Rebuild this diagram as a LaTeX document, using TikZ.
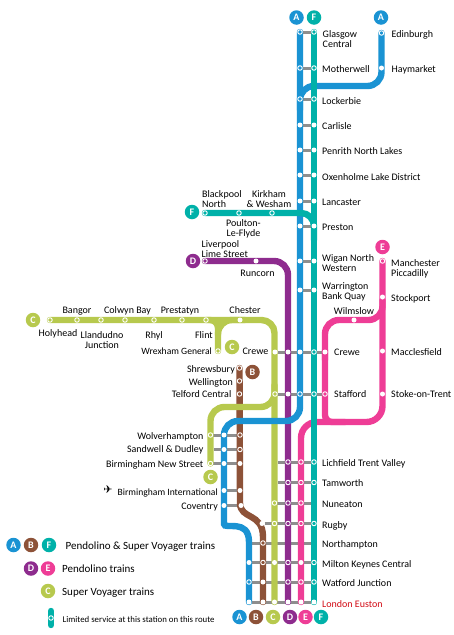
\documentclass[tikz,border=0pt]{standalone}
\usepackage{fontspec}
\setmainfont{Carlito}
\newfontfamily\symfont{DejaVu Sans}
\usepackage{xcolor}
\definecolor{lineA}{RGB}{26,147,211}
\definecolor{lineB}{RGB}{141,82,56}
\definecolor{lineC}{RGB}{183,201,78}
\definecolor{lineD}{RGB}{142,44,142}
\definecolor{lineE}{RGB}{238,61,150}
\definecolor{lineF}{RGB}{0,177,169}
\definecolor{linkgrey}{RGB}{142,142,142}
\definecolor{euston}{RGB}{210,10,20}
\usetikzlibrary{backgrounds}
\tikzset{
  route/.style={line width=6.4pt,draw=#1,line cap=round},
  link/.style={line width=3pt,draw=linkgrey},
  stop/.style={circle,fill=white,inner sep=0pt,minimum size=5pt},
  ring/.style={circle,draw=white,line width=0.9pt,inner sep=0pt,minimum size=4.5pt},
  badge/.style={circle,fill=#1,text=white,inner sep=0pt,minimum size=14.5pt,
                font=\fontsize{10}{10}\selectfont\bfseries},
  lbl/.style={font=\fontsize{10}{10}\selectfont,inner sep=0pt,text height=8.5pt,text depth=0.5pt},
  lbltwo/.style={font=\fontsize{10}{10}\selectfont,inner sep=0pt,align=left,yshift=-1.5pt},
}
\begin{document}
\begin{tikzpicture}[x=1pt,y=-1pt]
  \useasboundingbox (0,0) rectangle (453,635);
  %% Stations on lines A and F, Glasgow to Warrington
  \foreach \nm/\yy/\st in {gla/32/ring,mot/68/ring,loc/99/ring,car/125/stop,pen/150/stop,
      oxe/175/stop,lan/201/stop,pre/226/stop,wig/261/stop,war/290/stop} {
    \node[\st] (\nm-a) at (300,\yy) {};
    \node[\st] (\nm-f) at (314,\yy) {};
  }
  %% Branch stations, top
  \node[ring] (edi-a) at (381.5,33) {};
  \node[stop] (hay-a) at (381.5,68) {};
  \foreach \nm/\xx in {bla/205,pou/239,kir/272} \node[ring] (\nm-f) at (\xx,213) {};
  \node[ring] (liv-d) at (205,261) {};
  \node[stop] (run-d) at (256,261) {};
  \node[ring] (man-e) at (382.5,261) {};
  \node[stop] (sto-e) at (382.5,297) {};
  \node[stop] (wil-e) at (354,320) {};
  \node[stop] (mac-e) at (382.5,351) {};
  \node[stop] (soe-e) at (382.5,394) {};
  %% North Wales
  \foreach \nm/\xx in {hol/50,ban/77,lla/101,col/125,rhy/154,pra/182,fli/206}
    \node[ring] (\nm-c) at (\xx,320) {};
  \node[stop] (che-c) at (240,320) {};
  \node[ring] (wre-c) at (218,351) {};
  %% Crewe and Stafford
  \node[stop] (cre-c) at (275,352) {};
  \node[stop] (cre-d) at (288,352) {};
  \node[stop] (cre-a) at (300,352) {};
  \node[ring] (cre-f) at (314,352) {};
  \node[stop] (cre-e) at (325,352) {};
  \node[ring] (sta-c) at (275,394) {};
  \node[stop] (sta-d) at (288,394) {};
  \node[ring] (sta-a) at (300,394) {};
  \node[ring] (sta-f) at (314,394) {};
  \node[ring] (sta-e) at (325,394) {};
  %% Shrewsbury and West Midlands
  \foreach \nm/\yy in {shr/368,wel/381,tel/394} \node[ring] (\nm-b) at (239.5,\yy) {};
  \node[ring] (wol-c) at (210.5,435) {};
  \node[stop] (wol-a) at (224,435) {};
  \node[ring] (wol-b) at (240,435) {};
  \coordinate (san-x) at (214,449.5);
  \node[stop] (san-a) at (224,449.5) {};
  \node[ring] (san-b) at (240,449.5) {};
  \node[ring] (bns-c) at (210.5,463.5) {};
  \node[stop] (bns-a) at (224,463.5) {};
  \node[stop] (bns-b) at (240,463.5) {};
  \node[stop] (bhi-a) at (224,490.5) {};
  \node[stop] (bhi-b) at (240,490.5) {};
  \node[stop] (cov-a) at (224,505.5) {};
  \node[stop] (cov-b) at (241,505.5) {};
  %% Trent Valley
  \foreach \nm/\yy in {lic/462,tam/482.5} {
    \coordinate (\nm-x) at (278,\yy);
    \foreach \ln/\xx in {d/288,e/301,f/314} \node[ring] (\nm-\ln) at (\xx,\yy) {};
  }
  \foreach \ln/\xx in {c/274.5,d/288,e/301} \node[ring] (nun-\ln) at (\xx,503) {};
  \coordinate (nun-f) at (311,503);
  \node[stop] (rug-b) at (262,523.5) {};
  \foreach \ln/\xx in {c/274.5,d/288,e/301,f/314} \node[ring] (rug-\ln) at (\xx,523.5) {};
  \coordinate (nor-a) at (252,543);
  \node[ring] (nor-b) at (263,543) {};
  \coordinate (nor-f) at (311,543);
  %% South of Rugby
  \node[stop] (mil-a) at (249,562.5) {};
  \node[ring] (mil-b) at (263,562.5) {};
  \node[stop] (mil-c) at (274.5,562.5) {};
  \node[ring] (mil-d) at (288,562.5) {};
  \node[stop] (mil-e) at (301,562.5) {};
  \node[ring] (mil-f) at (314,562.5) {};
  \node[ring] (wat-a) at (249,582) {};
  \node[stop] (wat-b) at (263,582) {};
  \node[ring] (wat-d) at (288,582) {};
  \node[ring] (wat-e) at (301,582) {};
  \node[ring] (wat-f) at (314,582) {};
  \foreach \ln/\xx in {a/249,b/263,c/274.5,d/288,e/301,f/314} \node[stop] (eus-\ln) at (\xx,602) {};
  %% Routes and interchange links go under the stations
  \begin{pgfonlayer}{background}
    \foreach \nm in {gla,mot,loc,car,pen,oxe,lan,pre,wig,war} \draw[link] (\nm-a) -- (\nm-f);
    \foreach \nm in {cre,sta} \draw[link] (\nm-c) -- (\nm-e);
    \draw[link] (wol-c) -- (wol-b);
    \draw[link] (san-x) -- (san-b);
    \draw[link] (bns-c) -- (bns-b);
    \draw[link] (bhi-a) -- (bhi-b);
    \draw[link] (cov-a) -- (cov-b);
    \foreach \nm in {lic,tam} \draw[link] (\nm-x) -- (\nm-f);
    \draw[link] (nun-c) -- (nun-f);
    \draw[link] (rug-b) -- (rug-f);
    \draw[link] (nor-a) -- (nor-f);
    \draw[link] (mil-a) -- (mil-f);
    \draw[link] (wat-a) -- (wat-f);
    \draw[link] (eus-a) -- (eus-f);
    %% B
    \draw[route=lineB] (shr-b.center) -- (240,503) .. controls (240,520) and (263,512) .. (263,537) -- (eus-b.center);
    %% C
    \draw[route=lineC,rounded corners=13pt] (hol-c.center) -- (274.5,320) -- (eus-c.center);
    \draw[route=lineC,rounded corners=14pt] (245,320) -- (218,320) -- (wre-c.center);
    \draw[route=lineC,rounded corners=8pt] (206,320) -- (218,320) -- (218,335);
    \draw[route=lineC,rounded corners=14pt] (274.5,385) -- (274.5,407) -- (210.5,407) -- (bns-c.center);
    %% D
    \draw[route=lineD,rounded corners=14pt] (liv-d.center) -- (288,261) -- (eus-d.center);
    %% E
    \draw[route=lineE,rounded corners=16pt] (man-e.center) -- (382.5,422) -- (301,422) -- (eus-e.center);
    \draw[route=lineE,rounded corners=14pt] (382.5,300) -- (382.5,320) -- (325,320) -- (325,360);
    \draw[route=lineE,rounded corners=7pt] (325,350) -- (325,422) -- (345,422);
    %% A
    \draw[route=lineA,rounded corners=14pt] (edi-a.center) -- (381.5,86) -- (300,86) -- (300,110);
    \draw[route=lineA,rounded corners=14pt] (gla-a.center) -- (300,421) -- (224,421) -- (224,510)
      [sharp corners] .. controls (224,530) and (249,518) .. (249,542) -- (eus-a.center);
    %% F
    \draw[route=lineF,rounded corners=13pt] (bla-f.center) -- (314,213) -- (314,240);
    \draw[route=lineF] (gla-f.center) -- (eus-f.center);
  \end{pgfonlayer}
  %% Badges
  \node[badge=lineA] (top-a) at (296.5,17.5) {A};
  \node[badge=lineF] (top-f) at (314,17.5) {F};
  \node[badge=lineA] (edi-t) at (381,17.5) {A};
  \node[badge=lineF] (bla-t) at (192,212) {F};
  \node[badge=lineD] (liv-t) at (193,261) {D};
  \node[badge=lineE] (man-t) at (382.5,247) {E};
  \node[badge=lineC] (hol-t) at (33,320) {C};
  \node[badge=lineC] (wre-t) at (232,347) {C};
  \node[badge=lineB] (shr-t) at (252.5,372) {B};
  \node[badge=lineC] (bns-t) at (210.5,477) {C};
  \foreach \ln/\cc/\xx/\tt in {a/lineA/239.5/A,b/lineB/256/B,c/lineC/273/C,d/lineD/290/D,e/lineE/305.5/E,f/lineF/321/F}
    \node[badge=\cc] (eus-t\ln) at (\xx,617) {\tt};
  %% Labels, right of the lines
  \foreach \nm/\xx/\yy/\tx in {motl/322/68/Motherwell,locl/322/100/Lockerbie,carl/322/125/Carlisle,
      penl/322/150/Penrith North Lakes,oxel/322/176/Oxenholme Lake District,lanl/322/201/Lancaster,
      prel/322/226/Preston,crel/334/351/Crewe,stal/334/393/Stafford,
      edil/391.5/33/Edinburgh,hayl/391.5/68/Haymarket,stol/391/297/Stockport,
      macl/391/351/Macclesfield,soel/391/393/Stoke-on-Trent,
      licl/322/462/Lichfield Trent Valley,taml/322/482/Tamworth,nunl/322/503/Nuneaton,
      rugl/322/524/Rugby,norl/322/543/Northampton,mill/322/563/Milton Keynes Central,
      watl/322/582/Watford Junction}
    \node[lbl,anchor=west] (\nm) at (\xx,\yy) {\tx};
  \node[lbl,anchor=west,text=euston] (eusl) at (322,603) {London Euston};
  \node[lbltwo,anchor=west] (glal) at (322.5,38) {Glasgow\\Central};
  \node[lbltwo,anchor=west] (wigl) at (322,261.5) {Wigan North\\Western};
  \node[lbltwo,anchor=west] (warl) at (322,290) {Warrington\\Bank Quay};
  \node[lbltwo,anchor=west] (manl) at (391,267.5) {Manchester\\Piccadilly};
  \node[lbltwo,anchor=west] (blal) at (202,197.5) {Blackpool\\North};
  \node[lbltwo,anchor=west] (livl) at (201.5,247.5) {Liverpool\\Lime Street};
  %% Labels, centred
  \foreach \nm/\xx/\yy/\tx in {wilm/354/310/Wilmslow,runl/257.5/272/Runcorn,banl/77/309/Bangor,
      coll/127.5/309/Colwyn Bay,pral/180/309/Prestatyn,chel/245/309/Chester,
      holl/58/332/Holyhead,rhyl/154/334/Rhyl}
    \node[lbl] (\nm) at (\xx,\yy) {\tx};
  \node[lbltwo,align=center] (kirl) at (269,197.5) {Kirkham\\\& Wesham};
  \node[lbltwo,align=center] (poul) at (243.5,227.5) {Poulton-\\Le-Flyde};
  \node[lbltwo,align=center] (llal) at (102,338.5) {Llandudno\\Junction};
  %% Labels, left of the lines
  \foreach \nm/\xx/\yy/\tx in {flil/213/334/Flint,crew/268.5/350.5/Crewe,
      shrl/235/368/Shrewsbury,well/233/381/Wellington,tell/231.5/393.5/Telford Central,
      woll/203.5/435/Wolverhampton,sanl/203.5/448.5/Sandwell \& Dudley,
      bnsl/203.5/463/Birmingham New Street,covl/218/505.5/Coventry}
    \node[lbl,anchor=east] (\nm) at (\xx,\yy) {\tx};
  \node[lbl,anchor=east,font=\fontsize{9.6}{10}\selectfont] (wrel) at (212,350.5) {Wrexham General};
  \node[lbl,anchor=east,font=\fontsize{9.6}{10}\selectfont] (bhil) at (218,491) {Birmingham International};
  \node[inner sep=0pt,font=\fontsize{11}{11}\symfont] (plane) at (108,490) {✈};
  %% Legend
  \node[badge=lineA] (key-a) at (13.5,545) {A};
  \node[badge=lineB] (key-b) at (31,545) {B};
  \node[badge=lineF] (key-f) at (49,545) {F};
  \node[badge=lineD] (key-d) at (31,568.5) {D};
  \node[badge=lineE] (key-e) at (48,568.5) {E};
  \node[badge=lineC] (key-c) at (48,591) {C};
  \draw[route=lineF] (51,611) -- (51,625);
  \node[ring] (key-r) at (51,618) {};
  \node[lbl,anchor=west,font=\fontsize{11}{11}\selectfont] (keyone) at (65.5,545) {Pendolino \& Super Voyager trains};
  \node[lbl,anchor=west,font=\fontsize{11}{11}\selectfont] (keytwo) at (62,568.5) {Pendolino trains};
  \node[lbl,anchor=west,font=\fontsize{11}{11}\selectfont] (keythree) at (62,591) {Super Voyager trains};
  \node[lbl,anchor=west,font=\fontsize{8.8}{9}\selectfont] (keyfour) at (62.5,618) {Limited service at this station on this route};
\end{tikzpicture}
\end{document}
